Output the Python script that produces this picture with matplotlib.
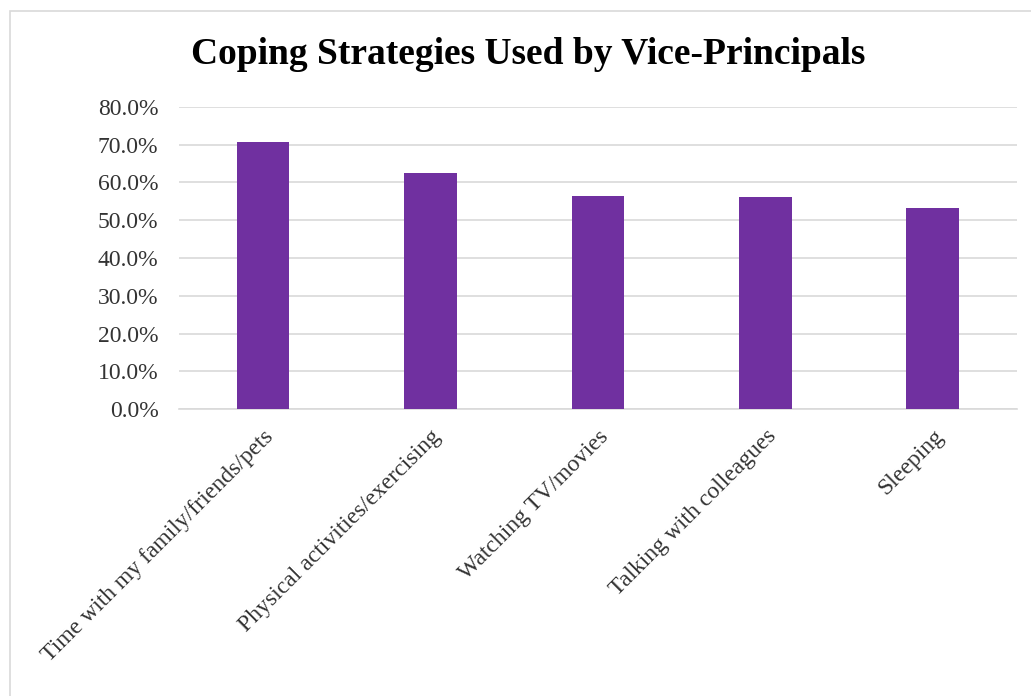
import matplotlib
matplotlib.use("Agg")
from matplotlib import pyplot as plt
from matplotlib.patches import Rectangle
from matplotlib.ticker import PercentFormatter

estrategias = ["Time with my family/friends/pets",
               "Physical activities/exercising",
               "Watching TV/movies",
               "Talking with colleagues",
               "Sleeping"]
porcentajes = [0.707, 0.626, 0.564, 0.562, 0.531]
ticks_y = [0.0, 0.1, 0.2, 0.3, 0.4, 0.5, 0.6, 0.7, 0.8]

plt.rcParams["font.family"] = ["Liberation Serif", "DejaVu Serif"]

fig = plt.figure(figsize=(10.31, 6.96), dpi=100)
ax = fig.add_axes([0.1739, 0.4119, 0.8122, 0.4348])

# marco gris alrededor del grafico
fig.patches.append(Rectangle((10 / 1031, -0.01), 1.02, 1 - 11 / 696 + 0.01,
                             transform=fig.transFigure, fill=False,
                             edgecolor="#D9D9D9", linewidth=1.2))

x = range(len(estrategias))
ax.bar(x, porcentajes, width=0.316, color="#7030A0", zorder=3)

ax.set_ylim(0, 0.8)
ax.set_xlim(-0.5, len(estrategias) - 0.5)
ax.set_yticks(ticks_y)
ax.yaxis.set_major_formatter(PercentFormatter(1.0, decimals=1))
ax.grid(axis="y", color="#D9D9D9", linewidth=1.2, zorder=0)
for s in ["top", "right", "left"]:
    ax.spines[s].set_visible(False)
ax.spines["bottom"].set_color("#D9D9D9")
ax.spines["bottom"].set_linewidth(1.2)
ax.tick_params(axis="both", length=0, labelsize=17, colors="#333333")
ax.tick_params(axis="y", pad=15)
ax.set_xticks(list(x))
ax.set_xticklabels(estrategias, rotation=45, ha="right", rotation_mode="anchor")
ax.tick_params(axis="x", pad=12)

fig.text(0.512, 0.921, "Coping Strategies Used by Vice-Principals",
         ha="center", va="center", fontsize=27, fontweight="bold")

plt.savefig("out.png", dpi=100)
